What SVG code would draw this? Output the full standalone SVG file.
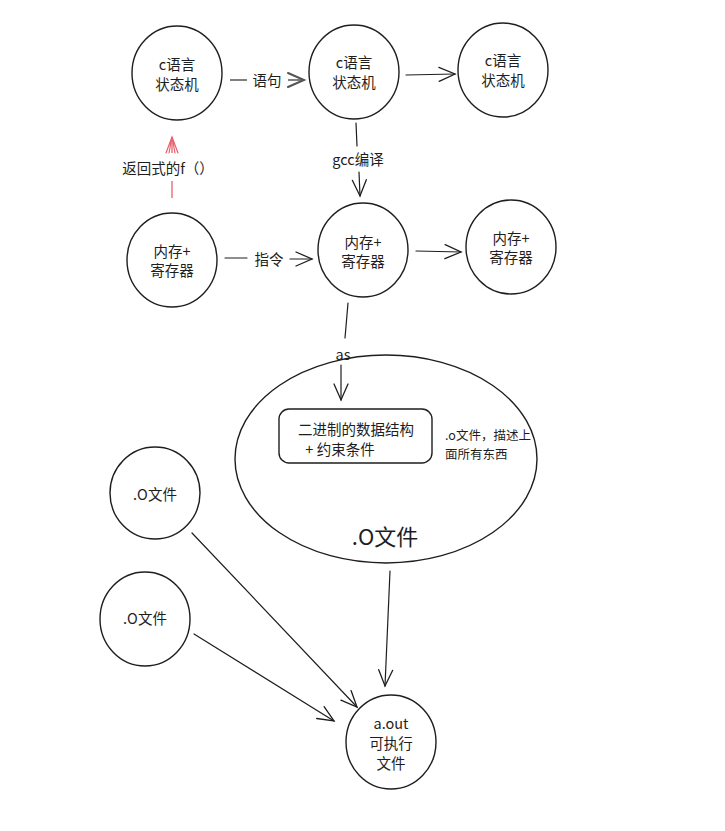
<svg xmlns="http://www.w3.org/2000/svg" width="725" height="831" viewBox="0 0 725 831">
<defs>
<marker id="ah" markerUnits="userSpaceOnUse" markerWidth="24" markerHeight="24" refX="0" refY="0" viewBox="-20 -12 24 24" orient="auto" overflow="visible">
<path d="M -16 -7 L 0 0 L -16 7" fill="none" stroke="#1e1e1e" stroke-width="1.3" stroke-linecap="round"/>
</marker>
<marker id="ahg" markerUnits="userSpaceOnUse" markerWidth="24" markerHeight="24" refX="0" refY="0" viewBox="-20 -12 24 24" orient="auto" overflow="visible">
<path d="M -16 -7 L 0 0 L -16 7" fill="none" stroke="#555" stroke-width="2" stroke-linecap="round"/>
</marker>
<marker id="ahr" markerUnits="userSpaceOnUse" markerWidth="24" markerHeight="24" refX="0" refY="0" viewBox="-20 -12 24 24" orient="auto" overflow="visible">
<path d="M -16 -6 L 0 0 L -16 6 M -16 -3 L 0 0 L -16 3" fill="none" stroke="#e8616b" stroke-width="1.2" stroke-linecap="round"/>
</marker>
</defs>
<style>
.n{fill:none;stroke:#1e1e1e;stroke-width:1.4}
.t{font-family:"Noto Sans CJK SC","Noto Sans",sans-serif;font-size:14.5px;fill:#1e1e1e;text-anchor:middle;dominant-baseline:central}
.s{font-size:12.5px;text-anchor:start}
.c{fill:none;stroke:#1e1e1e;stroke-width:1.2;stroke-linecap:round}
</style>
<rect width="725" height="831" fill="#ffffff"/>
<g id="n1"><ellipse class="n" cx="177" cy="73" rx="45" ry="47"/><text class="t" x="177" y="63">c语言</text><text class="t" x="177" y="83">状态机</text></g>
<g id="n2"><ellipse class="n" cx="354" cy="72" rx="45" ry="47"/><text class="t" x="354" y="61">c语言</text><text class="t" x="354" y="81">状态机</text></g>
<g id="n3"><ellipse class="n" cx="503" cy="70" rx="45" ry="47"/><text class="t" x="503" y="59">c语言</text><text class="t" x="503" y="79">状态机</text></g>
<g id="n4"><ellipse class="n" cx="172" cy="260" rx="45" ry="47"/><text class="t" x="172" y="250">内存+</text><text class="t" x="172" y="269">寄存器</text></g>
<g id="n5"><ellipse class="n" cx="363" cy="250" rx="45" ry="47"/><text class="t" x="363" y="241">内存+</text><text class="t" x="363" y="260">寄存器</text></g>
<g id="n6"><ellipse class="n" cx="511" cy="247" rx="45" ry="47"/><text class="t" x="511" y="237">内存+</text><text class="t" x="511" y="256">寄存器</text></g>
<g id="obj">
<ellipse class="n" cx="386" cy="459" rx="151" ry="104"/>
<rect class="n" x="279" y="409" width="153" height="54" rx="10"/>
<text class="t" x="356" y="428">二进制的数据结构</text>
<text class="t" x="340" y="448">+  约束条件</text>
<text class="t s" x="445" y="434">.o文件，描述上</text>
<text class="t s" x="445" y="453">面所有东西</text>
<text class="t" x="385" y="535" style="font-size:22px">.O文件</text>
</g>
<g id="o1"><ellipse class="n" cx="155" cy="493" rx="45" ry="46"/><text class="t" x="155" y="493">.O文件</text></g>
<g id="o2"><ellipse class="n" cx="145" cy="619" rx="45" ry="47"/><text class="t" x="145" y="617">.O文件</text></g>
<g id="aout"><ellipse class="n" cx="391" cy="742" rx="45" ry="47"/><text class="t" x="391" y="722">a.out</text><text class="t" x="391" y="742">可执行</text><text class="t" x="391" y="762">文件</text></g>
<g id="connectors">
<path d="M 230 80 L 247 80" stroke="#555" stroke-width="1.5" fill="none"/>
<text class="t" x="267" y="79">语句</text>
<path d="M 288 80 L 304 80" stroke="#555" stroke-width="1.5" fill="none" marker-end="url(#ahg)"/>
<path class="c" d="M 406 75 L 455 74" marker-end="url(#ah)"/>
<path class="c" d="M 356 123 L 357 146"/>
<text class="t" x="358" y="158">gcc编译</text>
<path class="c" d="M 359 172 L 360 196" marker-end="url(#ah)"/>
<path d="M 172 198 L 172 181" stroke="#e8616b" stroke-width="1.3" fill="none"/>
<text class="t" x="168" y="167">返回式的f（）</text>
<path d="M 172 153 L 172 137" stroke="#e8616b" stroke-width="1.3" fill="none" marker-end="url(#ahr)"/>
<path class="c" d="M 225 258 L 247 258"/>
<text class="t" x="269" y="258">指令</text>
<path class="c" d="M 290 259 L 312 259" marker-end="url(#ah)"/>
<path class="c" d="M 416 251 L 461 252" marker-end="url(#ah)"/>
<path class="c" d="M 348 303 L 345 338"/>
<text class="t" x="343" y="353">as</text>
<path class="c" d="M 341 365 L 341 400" marker-end="url(#ah)"/>
<path class="c" d="M 192 533 L 357 707" marker-end="url(#ah)"/>
<path class="c" d="M 194 634 L 334 721" marker-end="url(#ah)"/>
<path class="c" d="M 390 571 L 385 686" marker-end="url(#ah)"/>
</g>
</svg>
